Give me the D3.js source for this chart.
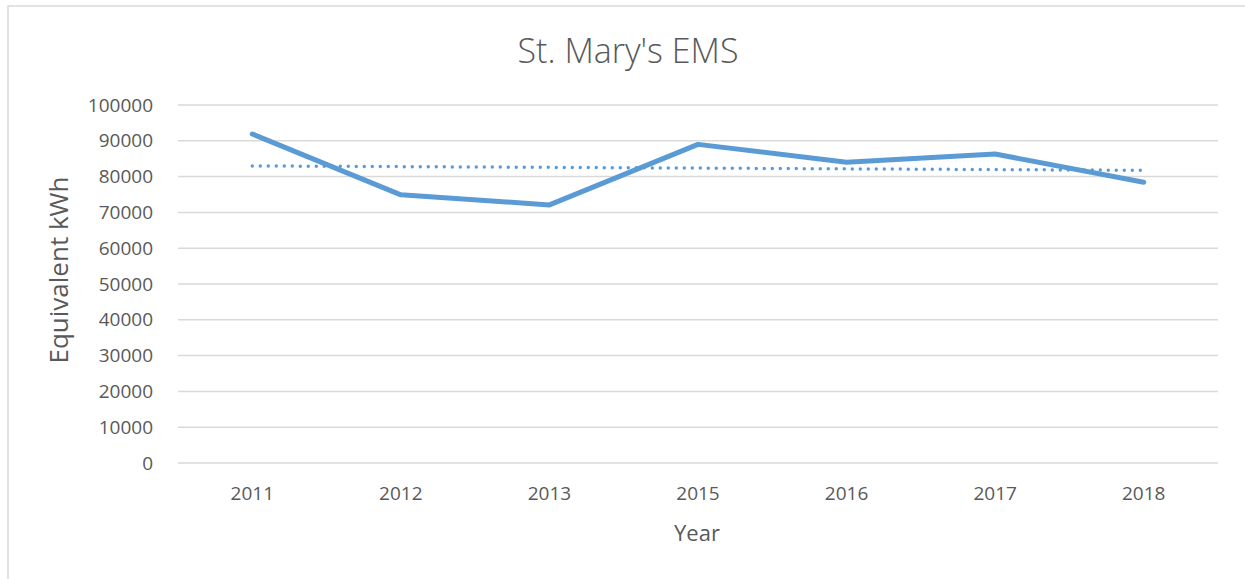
<!DOCTYPE html>
<html>
<head>
<meta charset="utf-8">
<script src="https://cdn.jsdelivr.net/npm/d3@7"></script>
<style>
  body { margin: 0; background: #fff; }
  text { font-family: "Open Sans", "Liberation Sans", sans-serif; fill: #595959; }
</style>
</head>
<body>
<script>
// data
const years = ["2011", "2012", "2013", "2015", "2016", "2017", "2018"];
const kwh = [91900, 74900, 72100, 89000, 84000, 86300, 78400];
const yTicks = [0, 10000, 20000, 30000, 40000, 50000, 60000, 70000, 80000, 90000, 100000];

const width = 1245, height = 579;
const margin = { left: 178, right: 27, top: 105, bottom: 116 };

const svg = d3.select("body").append("svg")
    .attr("width", width)
    .attr("height", height);

// frame of the chart area (only top and left edges visible)
svg.append("path")
    .attr("d", "M8,579 V6 H1245")
    .attr("fill", "none")
    .attr("stroke", "#d9d9d9")
    .attr("stroke-width", 1.5);

const x = d3.scaleBand()
    .domain(years)
    .range([margin.left, width - margin.right]);

const y = d3.scaleLinear()
    .domain([0, 100000])
    .range([height - margin.bottom, margin.top]);

// gridlines
svg.append("g")
    .selectAll("line")
    .data(yTicks)
    .enter().append("line")
    .attr("x1", margin.left)
    .attr("x2", width - margin.right)
    .attr("y1", d => y(d))
    .attr("y2", d => y(d))
    .attr("stroke", "#d9d9d9")
    .attr("stroke-width", 1.5);

// y axis labels
const yAxis = svg.append("g")
    .attr("transform", `translate(${margin.left},0)`)
    .call(d3.axisLeft(y).tickValues(yTicks).tickSize(0).tickPadding(25).tickFormat(d3.format("d")));
yAxis.select(".domain").remove();
yAxis.selectAll("text").style("font-size", "19px").style("fill", "#595959").style("font-family", null);

// x axis labels
const xAxis = svg.append("g")
    .attr("transform", `translate(0,${height - margin.bottom})`)
    .call(d3.axisBottom(x).tickSize(0).tickPadding(24));
xAxis.select(".domain").remove();
xAxis.selectAll("text").style("font-size", "19px").style("fill", "#595959").style("font-family", null);

// linear trendline (least squares over category index)
const n = kwh.length;
const xs = d3.range(1, n + 1);
const mx = d3.mean(xs), my = d3.mean(kwh);
const slope = d3.sum(xs, (v, i) => (v - mx) * (kwh[i] - my)) / d3.sum(xs, v => (v - mx) * (v - mx));
const trend = xs.map(v => my + slope * (v - mx));

svg.append("line")
    .attr("x1", x(years[0]) + x.bandwidth() / 2)
    .attr("x2", x(years[n - 1]) + x.bandwidth() / 2)
    .attr("y1", y(trend[0]))
    .attr("y2", y(trend[n - 1]))
    .attr("stroke", "#5b9bd5")
    .attr("stroke-width", 3.5)
    .attr("stroke-linecap", "round")
    .attr("stroke-dasharray", "0 8");

// main series
const line = d3.line()
    .x((d, i) => x(years[i]) + x.bandwidth() / 2)
    .y(d => y(d));

svg.append("path")
    .datum(kwh)
    .attr("d", line)
    .attr("fill", "none")
    .attr("stroke", "#5b9bd5")
    .attr("stroke-width", 5)
    .attr("stroke-linecap", "round")
    .attr("stroke-linejoin", "round");

// titles
svg.append("text")
    .attr("x", 628).attr("y", 63)
    .attr("text-anchor", "middle")
    .style("font-size", "34px")
    .style("font-weight", 300)
    .text("St. Mary's EMS");

svg.append("text")
    .attr("x", 697).attr("y", 541)
    .attr("text-anchor", "middle")
    .style("font-size", "22px")
    .text("Year");

svg.append("text")
    .attr("transform", "translate(68,270) rotate(-90)")
    .attr("text-anchor", "middle")
    .style("font-size", "26px")
    .text("Equivalent kWh");
</script>
</body>
</html>
